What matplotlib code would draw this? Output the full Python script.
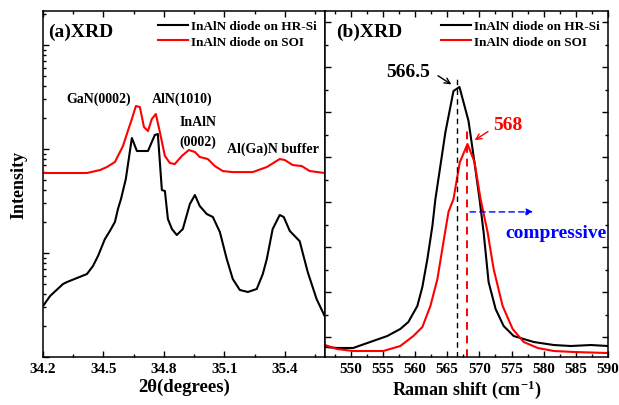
import numpy as np
import matplotlib
matplotlib.use('Agg')
import matplotlib.pyplot as plt
from matplotlib.ticker import MultipleLocator, LogLocator, NullFormatter

plt.rcParams['font.family'] = ['Liberation Serif', 'DejaVu Serif']
plt.rcParams['font.weight'] = 'bold'
plt.rcParams['mathtext.fontset'] = 'custom'
plt.rcParams['mathtext.rm'] = 'Liberation Serif'
plt.rcParams['mathtext.bf'] = 'Liberation Serif:bold'
plt.rcParams['mathtext.default'] = 'bf'

# (a) XRD scans, 2theta in degrees, intensity in arb. units (log)
xrd_x_si = [34.200, 34.235, 34.299, 34.319, 34.418, 34.448, 34.473, 34.507, 34.532,
            34.557, 34.572, 34.587, 34.611, 34.641, 34.666, 34.721, 34.755, 34.770,
            34.790, 34.805, 34.820, 34.840, 34.864, 34.894, 34.929, 34.954, 34.978,
            35.013, 35.043, 35.078, 35.112, 35.142, 35.177, 35.217, 35.261, 35.291,
            35.311, 35.340, 35.375, 35.395, 35.425, 35.474, 35.514, 35.558, 35.598]
xrd_y_si = [30.9, 38.6, 50.3, 52.6, 62.8, 75.0, 93.6, 136, 163,
            199, 265, 330, 515, 1276, 957, 957, 1364, 1394,
            403, 395, 212, 170, 149, 170, 296, 361, 283,
            237, 222, 159, 87.6, 56.2, 44.1, 42.2, 45.1, 62.8,
            87.6, 170, 232, 222, 163, 130, 65.7, 36.1, 24.8]

xrd_x_soi = [34.200, 34.418, 34.483, 34.517, 34.557, 34.597, 34.621, 34.641, 34.661,
             34.681, 34.701, 34.721, 34.740, 34.760, 34.780, 34.805, 34.830, 34.854,
             34.889, 34.924, 34.954, 34.978, 35.018, 35.053, 35.092, 35.142, 35.241,
             35.311, 35.375, 35.400, 35.439, 35.484, 35.524, 35.598]
xrd_y_soi = [588, 588, 628, 671, 750, 1069, 1489, 1942, 2590,
             2534, 1628, 1489, 1942, 2171, 1457, 857, 733, 717,
             857, 978, 936, 838, 801, 686, 614, 600, 600,
             671, 801, 784, 702, 686, 614, 588]

# (b) Raman spectra, shift in cm^-1, intensity in arb. units (linear)
ram_x_si = [546.0, 547.87, 550.37, 553.02, 555.67, 557.70, 558.95, 560.35, 561.13,
            561.91, 562.69, 563.16, 564.72, 565.97, 566.90, 568.31, 569.09, 570.02,
            570.65, 571.43, 572.52, 573.77, 575.33, 578.45, 581.57, 584.22, 587.34, 589.99]
ram_y_si = [-0.222, -0.244, -0.244, -0.111, 0.022, 0.178, 0.333, 0.689, 1.111,
            1.733, 2.467, 3.067, 4.556, 5.467, 5.556, 4.800, 4.022, 3.067,
            2.333, 1.222, 0.622, 0.244, 0.022, -0.111, -0.178, -0.200, -0.178, -0.200]

ram_x_soi = [546.0, 547.87, 550.37, 555.05, 557.70, 559.73, 561.13, 562.38, 563.47,
             564.41, 565.19, 565.97, 566.95, 568.15, 569.24, 570.18, 571.27, 572.21,
             573.61, 575.17, 576.89, 579.07, 581.57, 584.69, 589.99]
ram_y_soi = [-0.178, -0.267, -0.311, -0.311, -0.200, 0.022, 0.222, 0.689, 1.289,
             2.111, 2.778, 3.067, 3.881, 4.289, 3.889, 3.067, 2.333, 1.511,
             0.689, 0.178, -0.111, -0.244, -0.311, -0.333, -0.356]

peak_si, peak_soi = 566.5, 568.0
labels = ['InAlN diode on HR-Si', 'InAlN diode on SOI']

fig = plt.figure(figsize=(6.19, 4.06), dpi=100)
ax1 = fig.add_axes([0.0695, 0.1182, 0.4556, 0.8522])
ax2 = fig.add_axes([0.5251, 0.1182, 0.4572, 0.8522])

for ax in (ax1, ax2):
    for s in ax.spines.values():
        s.set_linewidth(1.1)
    ax.tick_params(which='both', direction='in', width=1.0, labelsize=11)
    ax.tick_params(which='major', length=4)
    ax.tick_params(which='minor', length=2.2)

# ---- (a) XRD
ax1.plot(xrd_x_si, xrd_y_si, color='black', lw=1.5, label=labels[0])
ax1.plot(xrd_x_soi, xrd_y_soi, color='red', lw=1.5, label=labels[1])
ax1.set_yscale('log')
ax1.set_xlim(34.2, 35.6)
ax1.set_ylim(10, 10 * 10 ** (346 / 104))
ax1.xaxis.set_major_locator(MultipleLocator(0.3))
ax1.xaxis.set_minor_locator(MultipleLocator(0.15))
ax1.yaxis.set_major_locator(LogLocator(base=10))
ax1.yaxis.set_minor_locator(LogLocator(base=10, subs=np.arange(2, 10)))
ax1.yaxis.set_major_formatter(NullFormatter())
ax1.yaxis.set_minor_formatter(NullFormatter())
ax1.tick_params(which='both', top=True, right=False)
ax1.set_xlabel('2θ(degrees)', fontsize=13.5, fontweight='bold', labelpad=2)
ax1.set_ylabel('Intensity', fontsize=13, fontweight='bold', labelpad=8)
ax1.text(0.018, 0.942, '(a)XRD', transform=ax1.transAxes, fontsize=14,
         fontweight='bold', va='center', ha='left')
ax1.text(34.478, 3092, 'GaN(0002)', fontsize=10, fontweight='bold', ha='center', va='center')
ax1.text(34.890, 3092, 'AlN(1010)', fontsize=10, fontweight='bold', ha='center', va='center')
ax1.text(34.969, 1825, 'InAlN', fontsize=10, fontweight='bold', ha='center', va='center')
ax1.text(34.969, 1193, '(0002)', fontsize=10, fontweight='bold', ha='center', va='center')
ax1.text(35.340, 1020, 'Al(Ga)N buffer', fontsize=10, fontweight='bold', ha='center', va='center')
ax1.legend(loc='upper right', bbox_to_anchor=(1.005, 1.0), frameon=False,
           handlelength=2.3, handletextpad=0.25, labelspacing=0.25, borderaxespad=0.3,
           prop={'weight': 'bold', 'size': 9.5})

# ---- (b) Raman
ax2.plot(ram_x_si, ram_y_si, color='black', lw=1.5, label=labels[0])
ax2.plot(ram_x_soi, ram_y_soi, color='red', lw=1.5, label=labels[1])
ax2.set_xlim(546, 590)
ax2.set_ylim(-20 / 45, 326 / 45)
ax2.xaxis.set_minor_locator(MultipleLocator(2.5))
ax2.yaxis.set_major_locator(MultipleLocator(1))
ax2.yaxis.set_minor_locator(MultipleLocator(0.5))
ax2.yaxis.set_major_formatter(NullFormatter())
ax2.tick_params(which='both', top=True, right=True)
ax2.set_xticks([550, 555, 560, 565, 570, 575, 580, 585, 590])
ax2.set_xlabel('Raman shift (cm$^{-1}$)', fontsize=13, fontweight='bold', labelpad=2)

ymin = ax2.get_ylim()[0]
ax2.vlines(peak_si, ymin, 5.8, colors='black', linestyles=(0, (4, 3)), lw=1.0)
ax2.vlines(peak_soi, ymin, 4.667, colors='red', linestyles=(0, (4, 3)), lw=1.4)

ax2.annotate('', xy=(566.0, 5.58), xytext=(563.2, 5.84),
             arrowprops=dict(arrowstyle='->', color='black', lw=1.0))
ax2.text(558.9, 5.911, str(peak_si), fontsize=14, fontweight='bold', ha='center', va='center')
ax2.annotate('', xy=(568.9, 4.34), xytext=(571.7, 4.6),
             arrowprops=dict(arrowstyle='->', color='red', lw=1.0))
ax2.text(574.4, 4.733, '568', fontsize=14, fontweight='bold', color='red', ha='center', va='center')

ax2.annotate('', xy=(578.8, 2.78), xytext=(568.1, 2.78),
             arrowprops=dict(arrowstyle='-|>', color='blue', lw=1.0, linestyle=(0, (4, 3)),
                             mutation_scale=10))
ax2.text(581.9, 2.33, 'compressive', fontsize=14, fontweight='bold', color='blue',
         ha='center', va='center')
ax2.text(0.039, 0.942, '(b)XRD', transform=ax2.transAxes, fontsize=14,
         fontweight='bold', va='center', ha='left')
ax2.legend(loc='upper right', bbox_to_anchor=(1.005, 1.0), frameon=False,
           handlelength=2.3, handletextpad=0.25, labelspacing=0.25, borderaxespad=0.3,
           prop={'weight': 'bold', 'size': 9.5})

fig.savefig('out.png', dpi=100)
